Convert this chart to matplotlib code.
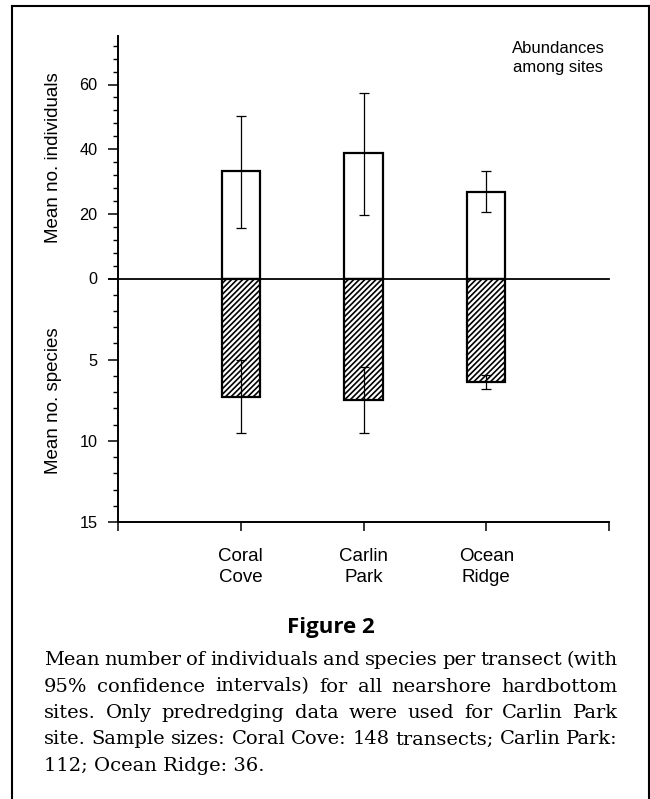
import matplotlib
matplotlib.use('Agg')
import matplotlib.pyplot as plt
from matplotlib.lines import Line2D
from matplotlib.ticker import MultipleLocator, FixedLocator
import numpy as np

# ---------------- data ----------------
sites = ['Coral\nCove', 'Carlin\nPark', 'Ocean\nRidge']
ind_mean = [33.2, 38.7, 26.8]
ind_ci_low = [15.7, 19.7, 20.6]
ind_ci_high = [50.4, 57.3, 33.2]
spp_mean = [7.28, 7.49, 6.38]
spp_ci_low = [5.02, 5.43, 5.93]
spp_ci_high = [9.54, 9.54, 6.81]
ind_ticks = [0, 20, 40, 60]
spp_ticks = [0, 5, 10, 15]
spp_tick_labels = ['', '5', '10', '15']
ind_label = 'Mean no. individuals'
spp_label = 'Mean no. species'
note_lines = ['Abundances', 'among sites']
fig_title = 'Figure 2'
caption_lines = [
    'Mean number of individuals and species per transect (with',
    '95% confidence intervals) for all nearshore hardbottom',
    'sites. Only predredging data were used for Carlin Park',
    'site. Sample sizes: Coral Cove: 148 transects; Carlin Park:',
    '112; Ocean Ridge: 36.',
]

SANS = ['Liberation Sans', 'DejaVu Sans']
SERIF = ['DejaVu Serif', 'Liberation Serif']
plt.rcParams['font.family'] = SANS
plt.rcParams['hatch.linewidth'] = 1.2

W, H = 650, 799
fig = plt.figure(figsize=(W / 100, H / 100), dpi=100)
fig.patch.set_facecolor('white')


def fx(px):
    return px / W


def fy(py):
    return 1 - py / H


left, right = 118, 609
y_top, y_zero, y_bot = 36, 278.5, 522
ax1 = fig.add_axes([fx(left), fy(y_zero), (right - left) / W, (y_zero - y_top) / H])
ax2 = fig.add_axes([fx(left), fy(y_bot), (right - left) / W, (y_bot - y_zero) / H])

x = np.arange(1, len(sites) + 1)
bw = 0.31

# top: individuals
ind_mean_a = np.array(ind_mean)
ax1.bar(x, ind_mean_a, width=bw, facecolor='white', edgecolor='black',
        linewidth=1.6, zorder=2, clip_on=False)
ax1.errorbar(x, ind_mean_a,
             yerr=[ind_mean_a - np.array(ind_ci_low), np.array(ind_ci_high) - ind_mean_a],
             fmt='none', ecolor='black', elinewidth=0.9, capsize=3.8, capthick=0.9, zorder=3)
ax1.axhline(0, color='black', linewidth=1.3, zorder=5, clip_on=False)
ax1.set_xlim(0, 4)
ax1.set_ylim(0, 75)
ax1.set_xticks([])
ax1.yaxis.set_major_locator(FixedLocator(ind_ticks))
ax1.yaxis.set_minor_locator(MultipleLocator(4))
for s in ['top', 'right', 'bottom']:
    ax1.spines[s].set_visible(False)
ax1.spines['left'].set_linewidth(1.4)

# bottom: species
spp_mean_a = np.array(spp_mean)
ax2.bar(x, spp_mean_a, width=bw, facecolor='white', edgecolor='black',
        hatch='//////', linewidth=1.6, zorder=2, clip_on=False)
ax2.errorbar(x, spp_mean_a,
             yerr=[spp_mean_a - np.array(spp_ci_low), np.array(spp_ci_high) - spp_mean_a],
             fmt='none', ecolor='black', elinewidth=0.9, capsize=3.8, capthick=0.9, zorder=3)
ax2.set_xlim(0, 4)
ax2.set_ylim(15, 0)
ax2.set_yticks(spp_ticks)
ax2.set_yticklabels(spp_tick_labels)
ax2.yaxis.set_minor_locator(MultipleLocator(1))
ax2.set_xticks([0, 1, 2, 3, 4])
ax2.set_xticklabels([''] + sites + [''], fontsize=13.5, linespacing=1.26)
for s in ['top', 'right']:
    ax2.spines[s].set_visible(False)
ax2.spines['left'].set_linewidth(1.4)
ax2.spines['bottom'].set_linewidth(1.4)

for ax in (ax1, ax2):
    ax.patch.set_alpha(0)
    ax.tick_params(axis='y', which='major', direction='out', length=7.2, width=1.1,
                   labelsize=11.7, pad=7.5)
    ax.tick_params(axis='y', which='minor', direction='out', length=3.6, width=1.0)
ax2.tick_params(axis='x', which='major', direction='out', length=6.5, width=1.1, pad=12.5)

ax1.set_ylabel(ind_label, fontsize=13.5)
ax2.set_ylabel(spp_label, fontsize=13.5)
ax1.yaxis.set_label_coords(-0.115, 0.5)
ax2.yaxis.set_label_coords(-0.115, 0.5)

# note in the top-right corner
for txt, yb in zip(note_lines, [53, 72]):
    fig.text(fx(558), fy(yb), txt, ha='center', va='baseline', fontsize=12)

# Figure title
fig.text(fx(331), fy(633), fig_title, ha='center', va='baseline', fontsize=16,
         fontweight='bold', family=['Open Sans', 'DejaVu Sans'])

# caption (justified)
renderer = fig.canvas.get_renderer()
cap_left, cap_right = 44, 618
cap_width = cap_right - cap_left
baselines = [665, 691.5, 718, 744.5, 771]
cap_size = 14.0
min_gap_em = 0.2


def text_width(s, size):
    t = fig.text(0, 0, s, fontsize=size, family=SERIF)
    w = t.get_window_extent(renderer).width
    t.remove()
    return w


for i, ln in enumerate(caption_lines):
    yb = fy(baselines[i])
    if i == len(caption_lines) - 1:
        fig.text(fx(cap_left), yb, ln, ha='left', va='baseline', fontsize=cap_size,
                 family=SERIF)
        continue
    words = ln.split(' ')
    size = cap_size
    widths = [text_width(w, size) for w in words]
    need = sum(widths) + (len(words) - 1) * min_gap_em * size * 100 / 72
    if need > cap_width:
        size = size * cap_width / need
        widths = [text_width(w, size) for w in words]
    gap = (cap_width - sum(widths)) / (len(words) - 1)
    xpos = cap_left
    for w, wd in zip(words, widths):
        fig.text(fx(xpos), yb, w, ha='left', va='baseline', fontsize=size, family=SERIF)
        xpos += wd + gap

# outer frame (open at the bottom)
frame_kw = dict(color='black', linewidth=1.5, transform=fig.transFigure, clip_on=False)
fig.add_artist(Line2D([fx(12), fx(12)], [fy(6), -0.05], **frame_kw))
fig.add_artist(Line2D([fx(12), fx(649)], [fy(6), fy(6)], **frame_kw))
fig.add_artist(Line2D([fx(649), fx(649)], [fy(6), -0.05], **frame_kw))

fig.savefig('out.png', dpi=100)
